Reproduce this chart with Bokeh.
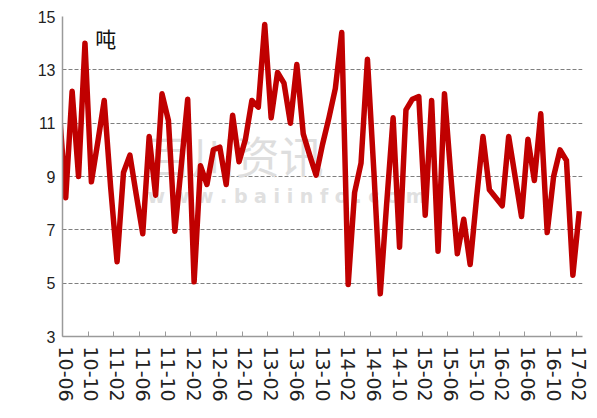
import pandas as pd
from bokeh.plotting import figure
from bokeh.models import Range1d, FixedTicker, LinearAxis, Label, ColumnDataSource
from bokeh.embed import file_html
from bokeh.resources import INLINE

# monthly series, 2010-05 .. 2017-02 (first month lies just left of the plot area)
months = [str(m) for m in pd.period_range("2010-05", "2017-02", freq="M")]
tonnes = [
    11.5,
    8.2, 12.2, 9.0, 14.0, 8.8, 10.3, 11.85, 8.6, 5.8, 9.15,
    9.8, 8.3, 6.85, 10.5, 8.3, 12.1, 11.1, 6.95, 9.4, 11.9,
    5.05, 9.4, 8.7, 10.0, 10.1, 8.7, 11.3, 9.55, 10.4, 11.85,
    11.6, 14.7, 11.2, 12.9, 12.5, 11.0, 13.2, 10.6, 9.8, 9.05,
    10.2, 11.2, 12.3, 14.4, 4.95, 8.4, 9.5, 13.4, 9.2, 4.6,
    8.0, 11.2, 6.35, 11.5, 11.9, 12.0, 7.55, 11.85, 6.2, 12.1,
    9.0, 6.1, 7.4, 5.7, 8.2, 10.5, 8.5, 8.2, 7.9, 10.5,
    9.0, 7.5, 10.4, 8.85, 11.35, 6.9, 9.0, 10.0, 9.6, 5.3,
    7.7,
]
tick_labels = ["10-06", "10-10", "11-02", "11-06", "11-10", "12-02", "12-06",
               "12-10", "13-02", "13-06", "13-10", "14-02", "14-06", "14-10",
               "15-02", "15-06", "15-10", "16-02", "16-06", "16-10", "17-02"]
y_ticks = [3, 5, 7, 9, 11, 13, 15]

idx = list(range(-1, len(tonnes) - 1))
src = ColumnDataSource(dict(x=idx, y=tonnes, month=months))

n = len(tonnes) - 1
p = figure(width=590, height=416, x_range=Range1d(-0.5, n - 0.5), y_range=Range1d(3, 15),
           output_backend="svg", toolbar_location=None,
           min_border_left=62, min_border_right=8, min_border_top=16, min_border_bottom=80)
p.outline_line_color = None
p.background_fill_color = "white"
p.border_fill_color = "white"

# grid
p.xgrid.visible = False
p.ygrid.ticker = FixedTicker(ticks=y_ticks[1:])
p.ygrid.grid_line_color = "#7f7f7f"
p.ygrid.grid_line_dash = "4 2"
p.ygrid.grid_line_width = 1

# y axis
ya = p.yaxis[0]
ya.ticker = FixedTicker(ticks=y_ticks)
ya.major_tick_in = 0
ya.major_tick_out = 0
ya.minor_tick_line_color = None
ya.axis_line_color = "#9a9a9a"
ya.axis_line_width = 1.5
ya.major_label_text_font = "Liberation Sans"
ya.major_label_text_font_size = "16px"
ya.major_label_text_color = "#222222"
ya.major_label_standoff = 7

# x axis: tick marks at category boundaries
xa = p.xaxis[0]
boundaries = [i * 4 - 0.5 for i in range(len(tick_labels))]
xa.ticker = FixedTicker(ticks=boundaries)
xa.major_label_overrides = {b: "" for b in boundaries}
xa.major_label_text_font_size = "1px"
xa.major_label_standoff = 0
xa.major_tick_in = 5
xa.major_tick_out = 0
xa.minor_tick_line_color = None
xa.axis_line_color = "#9a9a9a"
xa.axis_line_width = 1.5
xa.major_tick_line_color = "#9a9a9a"

# x axis: month labels at category centres
centres = [i * 4 for i in range(len(tick_labels))]
la = LinearAxis(ticker=FixedTicker(ticks=centres),
                major_label_overrides={c: t for c, t in zip(centres, tick_labels)},
                major_label_orientation="vertical",
                axis_line_color=None, major_tick_line_color=None, minor_tick_line_color=None,
                major_label_text_font="DejaVu Sans", major_label_text_font_size="19px",
                major_label_text_color="#222222", major_label_standoff=4)
p.add_layout(la, "below")

# watermark
p.add_layout(Label(x=12.75, y=11.0, text="百川资讯", text_baseline="top",
                   text_font="Noto Sans CJK SC", text_font_size="44px",
                   text_color="#dedede", level="underlay"))
p.add_layout(Label(x=12.75, y=8.7, text="w w w . b a i i n f o . c o m", text_baseline="top",
                   text_font="DejaVu Sans", text_font_size="19px", text_font_style="bold",
                   text_color="#e0e0e0", level="underlay"))

p.line("x", "y", source=src, line_color="#c00000", line_width=5.5, line_join="round")

p.add_layout(Label(x=4.6, y=14.75, text="吨", text_baseline="top",
                   text_font="Noto Sans CJK SC", text_font_size="21px", text_color="#111111"))

open("out.html", "w").write(file_html(p, INLINE))
